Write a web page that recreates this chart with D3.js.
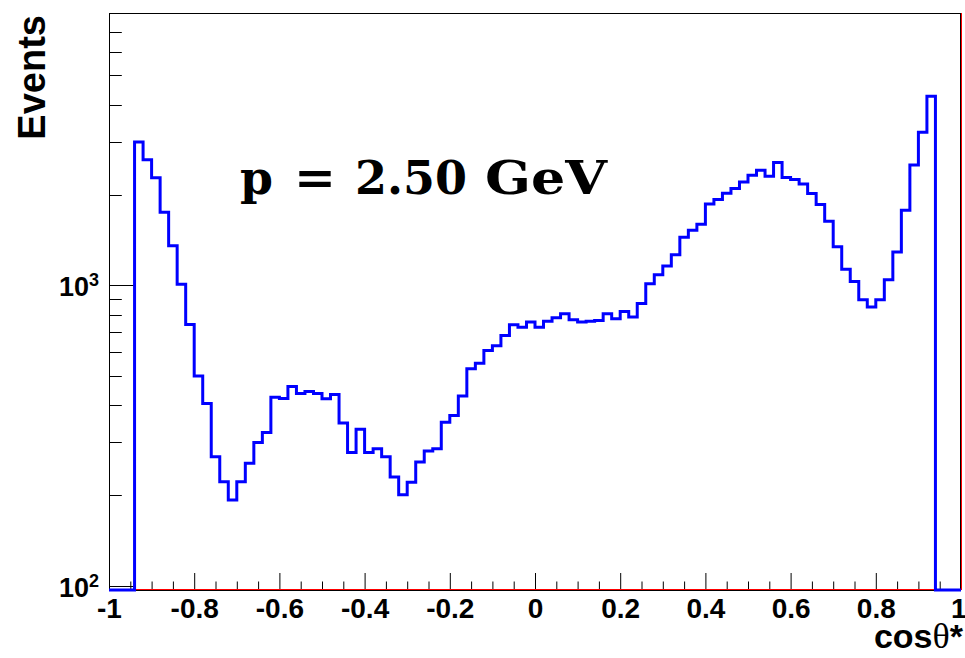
<!DOCTYPE html>
<html>
<head>
<meta charset="utf-8">
<script src="https://cdn.jsdelivr.net/npm/d3@7/dist/d3.min.js"></script>
<style>
  html, body { margin: 0; padding: 0; background: #fff; }
  svg { display: block; }
  text { font-family: "Liberation Sans", Arial, Helvetica, sans-serif; font-weight: bold; fill: #000; }
</style>
</head>
<body>
<svg id="chart" width="965" height="658"></svg>
<script>
// ---------------- data ----------------
const xRange = [-1, 1];
// 100 bins of cos(theta*), events per bin (0 = empty bin)
const counts = [
  0, 0, 0, 3000, 2620, 2282, 1751, 1354, 1008, 741,
  499, 404, 269, 222, 193, 222, 256, 300, 324, 424,
  420, 461, 437, 443, 437, 419, 433, 348, 278, 332,
  278, 286, 269, 230, 201, 221, 258, 281, 286, 350,
  369, 428, 528, 551, 607, 629, 681, 740, 726, 755,
  726, 759, 780, 805, 769, 755, 760, 764, 805, 774,
  819, 785, 870, 1013, 1084, 1161, 1264, 1445, 1526, 1597,
  1866, 1931, 2026, 2101, 2210, 2326, 2417, 2308, 2567, 2286,
  2251, 2175, 2021, 1858, 1634, 1346, 1131, 1031, 896, 847,
  896, 1045, 1291, 1778, 2518, 3236, 4266, 0, 0, 0
];
const xMajorTicks = [-1, -0.8, -0.6, -0.4, -0.2, 0, 0.2, 0.4, 0.6, 0.8, 1];
const xMinorTicks = [-0.95, -0.9, -0.85, -0.75, -0.7, -0.65, -0.55, -0.5, -0.45, -0.35, -0.3, -0.25,
  -0.15, -0.1, -0.05, 0.05, 0.1, 0.15, 0.25, 0.3, 0.35, 0.45, 0.5, 0.55, 0.65, 0.7, 0.75, 0.85, 0.9, 0.95];
const xTickLabels = ["-1", "-0.8", "-0.6", "-0.4", "-0.2", "0", "0.2", "0.4", "0.6", "0.8", "1"];
const yMajorTicks = [100, 1000];
const yMajorExp = ["2", "3"];
const yMinorTicks = [200, 300, 400, 500, 600, 700, 800, 900, 2000, 3000, 4000, 5000, 6000, 7000];
const yDomain = [96.8, 8070];
const xTitle = "cos";
const yTitle = "Events";
const annotation = ["p", "=", "2.50", "GeV"];

// ---------------- layout ----------------
const W = 965, H = 658;
const L = 109, R = 961, T = 13, B = 590;

const svg = d3.select("#chart");
const x = d3.scaleLinear().domain(xRange).range([L, R]);
const y = d3.scaleLog().domain(yDomain).range([B, T]);

// frame
svg.append("rect").attr("x", L + 0.5).attr("y", T + 0.5)
  .attr("width", R - L - 1).attr("height", B - T)
  .attr("fill", "none").attr("stroke", "#000").attr("stroke-width", 1);

// x axis ticks (inside)
const xAxis = d3.axisBottom(x).tickValues(xMajorTicks).tickSize(-17).tickSizeOuter(0)
  .tickPadding(8).tickFormat((d, i) => xTickLabels[i]);
const gx = svg.append("g").attr("transform", `translate(0,${B})`).call(xAxis);
gx.select(".domain").remove();
gx.selectAll(".tick line").attr("stroke", "#000").attr("stroke-width", 1);
gx.selectAll(".tick text").attr("font-size", 28).attr("font-family", '"Liberation Sans", Arial, sans-serif')
  .attr("font-weight", "bold").attr("fill", "#000");
// last label ("1") kept inside the picture
gx.selectAll(".tick text").filter(d => d === xRange[1]).attr("text-anchor", "end").attr("dx", 5);
svg.append("g").selectAll("line").data(xMinorTicks).join("line")
  .attr("x1", d => x(d) + 0.5).attr("x2", d => x(d) + 0.5)
  .attr("y1", B).attr("y2", B - 8.5).attr("stroke", "#000").attr("stroke-width", 1);

// y axis ticks (inside)
const gy = svg.append("g");
gy.selectAll("line.maj").data(yMajorTicks).join("line").attr("class", "maj")
  .attr("x1", L).attr("x2", L + 25.5)
  .attr("y1", d => Math.round(y(d)) + 0.5).attr("y2", d => Math.round(y(d)) + 0.5)
  .attr("stroke", "#000").attr("stroke-width", 1);
gy.selectAll("line.min").data(yMinorTicks).join("line").attr("class", "min")
  .attr("x1", L).attr("x2", L + 12.8)
  .attr("y1", d => Math.round(y(d)) + 0.5).attr("y2", d => Math.round(y(d)) + 0.5)
  .attr("stroke", "#000").attr("stroke-width", 1);
const ylab = gy.selectAll("text").data(yMajorTicks).join("text")
  .attr("x", 59).attr("y", d => y(d) + 11)
  .attr("text-anchor", "start").attr("font-size", 27);
ylab.text("10");
ylab.append("tspan").attr("font-size", 18).attr("dy", -10).text((d, i) => yMajorExp[i]);

// red frame edges (right side, bottom)
svg.append("line").attr("x1", R + 0.5).attr("x2", R + 0.5).attr("y1", T).attr("y2", B)
  .attr("stroke", "#ff0000").attr("stroke-width", 1);
svg.append("line").attr("x1", L).attr("x2", R).attr("y1", B - 0.5).attr("y2", B - 0.5)
  .attr("stroke", "#ff0000").attr("stroke-width", 1);

// histogram (step line)
const nb = counts.length;
const bw = (xRange[1] - xRange[0]) / nb;
const pts = [];
counts.forEach((c, i) => {
  const lo = xRange[0] + i * bw, hi = lo + bw;
  const yy = c > 0 ? y(c) : B;
  pts.push([x(lo), yy], [x(hi), yy]);
});
svg.append("path").datum(pts)
  .attr("d", d3.line())
  .attr("fill", "none").attr("stroke", "#0000ff").attr("stroke-width", 3)
  .attr("stroke-linejoin", "miter");

// axis titles
svg.append("text").attr("transform", `translate(45,15) rotate(-90)`)
  .attr("text-anchor", "end").attr("font-size", 38).text(yTitle);
const xt = svg.append("text").attr("x", 963).attr("y", 648).attr("text-anchor", "end").attr("font-size", 34);
xt.append("tspan").text(xTitle);
xt.append("tspan").attr("font-family", '"Liberation Serif", "Times New Roman", serif')
  .attr("font-weight", "normal").attr("font-size", 36).text("θ");
xt.append("tspan").text("*");

// annotation
const annX = [240, 294, 355, 485];
const annW = [33, 42, 112, 122];
const annWeight = ["bold", "normal", "bold", "bold"];
svg.append("g").selectAll("text").data(annotation).join("text")
  .attr("x", (d, i) => annX[i]).attr("y", 194)
  .style("font-family", '"DejaVu Serif", "Liberation Serif", serif')
  .attr("font-weight", (d, i) => annWeight[i])
  .attr("font-size", 47)
  .attr("textLength", (d, i) => annW[i])
  .attr("lengthAdjust", "spacingAndGlyphs")
  .text(d => d);
</script>
</body>
</html>
